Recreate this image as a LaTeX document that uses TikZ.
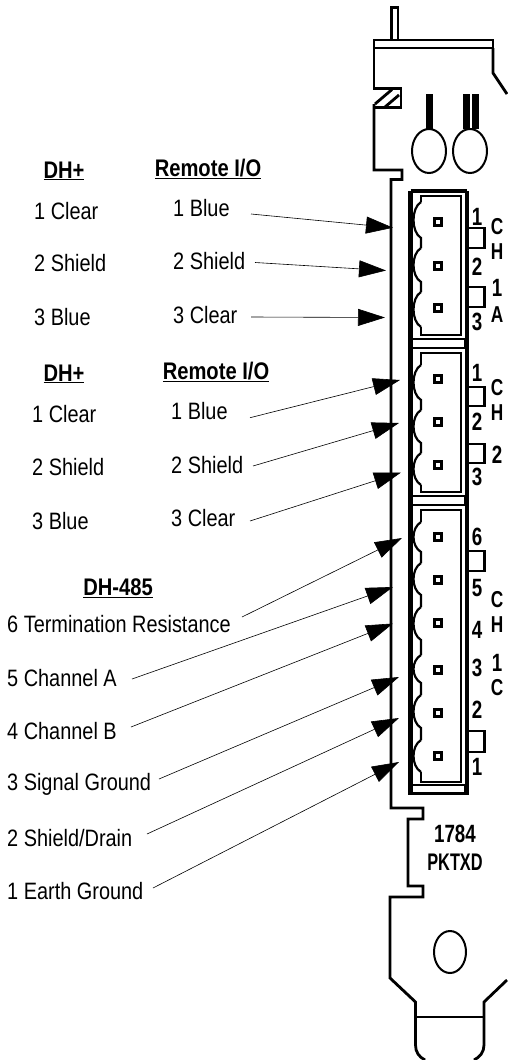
\documentclass[tikz,border=0pt]{standalone}
\usepackage{fontspec}
\setmainfont[FakeStretch=0.84]{Liberation Sans}
\newfontfamily\platefont[FakeStretch=0.75]{Liberation Sans}
\newfontfamily\partfont[FakeStretch=0.68]{Liberation Sans}
\usetikzlibrary{arrows.meta}

\tikzset{
    wirelabel/.style={anchor=west, inner sep=0pt, font=\fontsize{23.7}{25}\selectfont},
    heading/.style={inner sep=0pt, font=\fontsize{24}{26}\selectfont\bfseries},
    platemark/.style={inner sep=0pt, font=\fontsize{25}{27}\selectfont\platefont\bfseries},
    sidemark/.style={inner sep=0pt, font=\fontsize{23}{25}\selectfont\platefont\bfseries},
    pinbox/.style={draw, line width=2.5pt, minimum size=7pt, inner sep=0pt},
    pointer/.style={line width=0.6pt, -{Triangle[length=27pt,width=17pt]}},
    plate/.style={line width=2.8pt, line join=miter},
    hole/.style={line width=2pt},
    tab/.style={line width=2.8pt}
}

\begin{document}
\begin{tikzpicture}[x=1pt, y=-1pt]
    \useasboundingbox (0,0) rectangle (507,1060);

    % Draw plate outline
    \draw[plate] (391.5,40) -- (391.5,7.5) -- (398,7.5) -- (398,40);
    \draw[plate] (374,48) rectangle (493,40);
    \draw[plate] (374,48) -- (374,88.5) -- (401,88.5) -- (401,107.5) -- (375,107.5);
    \draw[plate] (375,104) -- (392,89.5);
    \draw[plate] (385,107) -- (399,95);
    \draw[plate] (374,104) -- (374,170) -- (402,170) -- (402,179.5) -- (391,179.5)
        -- (391,808) -- (423,808) -- (423,819) -- (408,819) -- (408,886) -- (423,886)
        -- (423,897) -- (390,897) -- (390,978) -- (415.5,1002) -- (415.5,1045)
        .. controls (415.5,1052) and (419,1057) .. (425,1060);
    \draw[plate] (493,48) -- (493,73) -- (507,94);
    \draw[plate] (507,980) -- (484,1002) -- (484,1045)
        .. controls (484,1052) and (480,1057) .. (474,1060);
    \draw[plate] (415.5,1017) -- (484,1017);

    % Draw holes and their leads
    \draw[hole] (429,151) ellipse [x radius=17, y radius=22];
    \draw[hole] (470,151) ellipse [x radius=17, y radius=22];
    \draw[hole] (450,952) ellipse [x radius=16, y radius=21];
    \fill (426,94) rectangle (433,129);
    \fill (463,94) rectangle (470,129);
    \fill (472,94) rectangle (479,129);

    % Draw connector bodies
    \draw[line width=4.5pt] (410.5,191) -- (467,191);
    \draw[line width=4.5pt] (410.5,191) -- (410.5,793) -- (467,793) -- (467,191);
    \foreach \ya/\yb in {339/348, 496/505, 785/793}
        \draw[fill=white, line width=2pt] (412,\ya) rectangle (465,\yb);
    \foreach \ya/\yb/\yc/\yd in {196/202/327/335, 353/365/485/492, 510/522/772/782}
        \draw[line width=2.6pt] (421,\yb) -- (421,\ya) -- (461,\ya) -- (461,\yd) -- (421,\yd) -- (421,\yc);

    % Draw scalloped edges
    \foreach \ya/\yb/\yc in {202/238/248, 248/282/292, 292/327/327,
                             365/400/410, 410/443/453, 453/485/485,
                             522/552/563, 563/595/607, 607/640/655,
                             655/683/695, 695/728/740, 740/772/772}
        \draw[line width=2.2pt] (421,\ya) .. controls (411,\ya+6) and (411,\yb-6) .. (421,\yb) -- (421,\yc);

    % Draw pins
    \foreach \y in {222,266,308,379,422,465,537,580,623,670,713,756}
        \node[pinbox] (pin\y) at (438,\y) {};

    % Draw tabs
    \foreach \ya/\yb in {228/248, 287/307, 387/406, 444/463, 551/571, 731/752}
        \draw[tab] (467,\ya) -- (484.5,\ya) -- (484.5,\yb) -- (467,\yb);

    % Draw plate marks
    \foreach \y/\mark in {217/1, 267/2, 322/3, 373/1, 422/2, 477/3,
                          537/6, 588/5, 630/4, 668/3, 710/2, 767/1}
        \node[platemark] (num\y) at (477,\y) {\mark};
    \foreach \y/\mark in {288/1, 455/2, 663/1}
        \node[platemark] (side\y) at (497,\y) {\mark};
    \foreach \y/\mark in {227/C, 252/H, 315/A, 388/C, 413/H, 600/C, 625/H, 688/C}
        \node[sidemark] (side\y) at (497,\y) {\mark};
    \node[platemark] (partnum) at (455,834) {1784};
    \node[platemark, font=\fontsize{24}{26}\selectfont\partfont\bfseries] (partname) at (455,862) {PKTXD};

    % Draw headings
    \node[heading] (dhA) at (64,171) {\underline{DH+}};
    \node[heading] (remoteA) at (208,169) {\underline{Remote I/O}};
    \node[heading] (dhB) at (64,374) {\underline{DH+}};
    \node[heading] (remoteB) at (216,372) {\underline{Remote I/O}};
    \node[heading] (dhC) at (118,588) {\underline{DH-485}};

    % Draw wire labels
    \foreach \y/\txt in {211/1 Clear, 263/2 Shield, 317/3 Blue}
        \node[wirelabel] (dhA\y) at (34,\y) {\txt};
    \foreach \y/\txt in {208/1 Blue, 261/2 Shield, 315/3 Clear}
        \node[wirelabel] (remoteA\y) at (173,\y) {\txt};
    \foreach \y/\txt in {414/1 Clear, 467/2 Shield, 521/3 Blue}
        \node[wirelabel] (dhB\y) at (32,\y) {\txt};
    \foreach \y/\txt in {411/1 Blue, 465/2 Shield, 518/3 Clear}
        \node[wirelabel] (remoteB\y) at (171,\y) {\txt};
    \foreach \y/\txt in {624/6 Termination Resistance, 678/5 Channel A, 731/4 Channel B,
                         784/3 Signal Ground, 838/{2 Shield/Drain}, 891/1 Earth Ground}
        \node[wirelabel] (dhC\y) at (7,\y) {\txt};

    % Draw pointers
    \foreach \wire/\xa/\ya/\xb/\yb in {ra/251/214/393/227.7, rb/255/262.5/386/270.5, rc/251/317/385/317.5,
                                       sa/250/417.7/400/380, sb/253/466/399/423, sc/250/521/401/472.5,
                                       ta/242/617/402/538, tb/132/679/393/587, tc/131/727/393/623.5,
                                       td/159/779/399/677, te/147/834/399/718, tf/153/888/399/762} {
        \coordinate (\wire tail) at (\xa,\ya);
        \coordinate (\wire tip) at (\xb,\yb);
        \draw[pointer] (\wire tail) -- (\wire tip);
    }
\end{tikzpicture}
\end{document}
